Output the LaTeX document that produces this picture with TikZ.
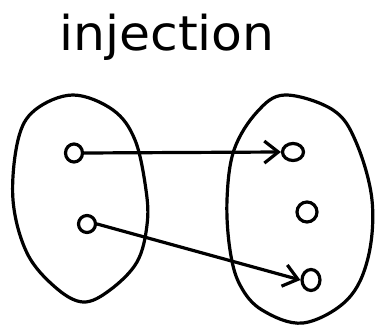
\documentclass[tikz,border=0pt]{standalone}
\usepackage{fontspec}
\setmainfont{DejaVu Sans}
\usetikzlibrary{arrows.meta,shapes.geometric}
\tikzset{
  ink/.style={line width=3.2pt, line cap=round, line join=round, draw=black},
  dot/.style={ink, ellipse, inner sep=0pt, minimum width=18pt, minimum height=18pt},
  mapsto/.style={ink, -{Straight Barb[length=14pt,width=22pt,line width=3.2pt]}},
  title/.style={font=\fontsize{48}{48}\selectfont, inner sep=0pt, anchor=base}
}
\begin{document}
\begin{tikzpicture}[x=1pt,y=-1pt]
\useasboundingbox (0,0) rectangle (375,328);
% title
\node[title, xscale=1.05] (t) at (167,51) {injection};
% domain blob
\draw[ink] plot[smooth cycle, tension=0.6] coordinates {
  (73,95) (113,110) (135,140) (146,190) (147,225) (137,262) (110,290) (83,302)
  (55,287) (27,253) (13,200) (18,140) (35,110)};
% codomain blob
\draw[ink] plot[smooth cycle, tension=0.6] coordinates {
  (285,95) (333,110) (356,142) (372,200) (368,258) (347,300) (303,323)
  (262,310) (240,285) (230,250) (227,200) (234,150) (257,112)};
% points
\node[dot, minimum width=17pt, minimum height=18pt] (a1) at (74,153) {};
\node[dot, minimum width=17pt, minimum height=17pt] (a2) at (87,224) {};
\node[dot, minimum width=21pt, minimum height=17pt] (b1) at (293,152) {};
\node[dot, minimum width=20pt, minimum height=20pt] (b2) at (307,212) {};
\node[dot, minimum width=18pt, minimum height=21pt] (b3) at (311,280) {};
% arrows
\draw[mapsto] (a1.east) -- (b1.west);
\draw[mapsto] (a2.east) -- (b3.west);
\end{tikzpicture}
\end{document}
